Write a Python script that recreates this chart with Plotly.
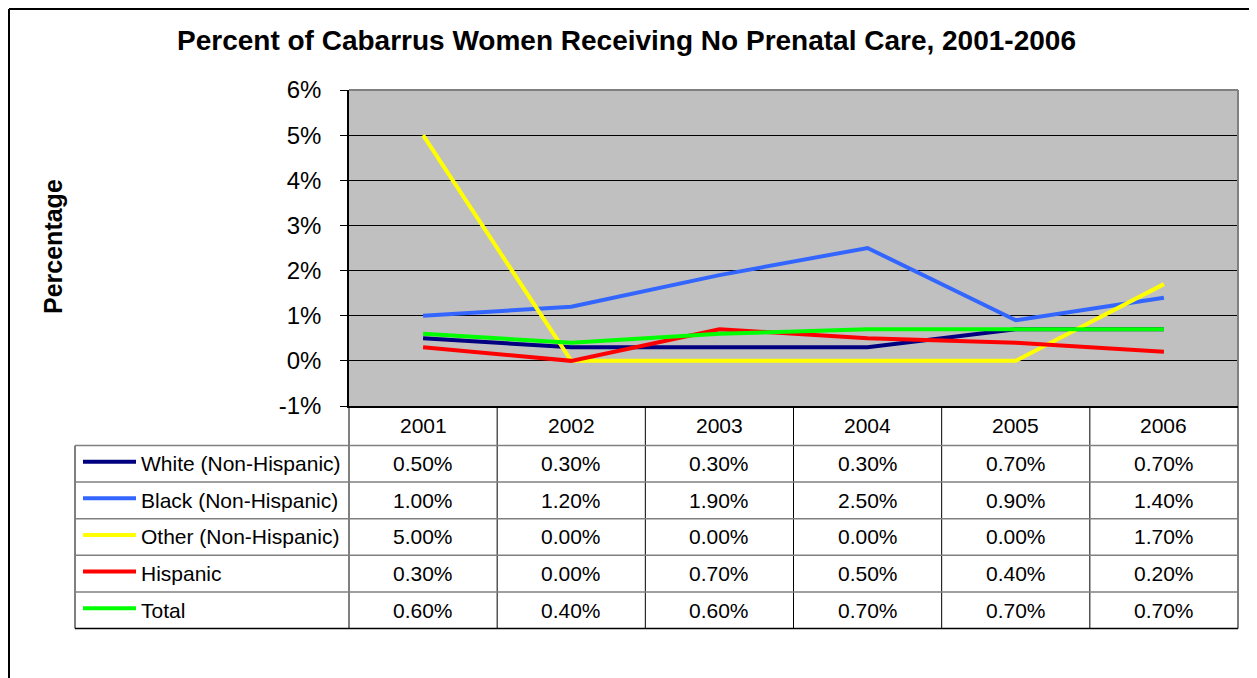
import plotly.graph_objects as go

# data
years = ["2001", "2002", "2003", "2004", "2005", "2006"]
white = [0.5, 0.3, 0.3, 0.3, 0.7, 0.7]
black = [1.0, 1.2, 1.9, 2.5, 0.9, 1.4]
other = [5.0, 0.0, 0.0, 0.0, 0.0, 1.7]
hispanic = [0.3, 0.0, 0.7, 0.5, 0.4, 0.2]
total = [0.6, 0.4, 0.6, 0.7, 0.7, 0.7]

series_names = ["White (Non-Hispanic)", "Black (Non-Hispanic)", "Other (Non-Hispanic)", "Hispanic", "Total"]
series_values = [white, black, other, hispanic, total]
series_colors = ["#000080", "#3366FF", "#FFFF00", "#FF0000", "#00FF00"]
y_ticks = [-1, 0, 1, 2, 3, 4, 5, 6]

# the page body adds an 8px margin, so the figure is laid out 8px up/left
OFF = 8
W, H = 1257 - OFF, 678 - OFF
L, R, T, B = 349, 1238, 90, 406   # plot area in page pixels
FONT = "Liberation Sans, Arial, sans-serif"


def px_x(px):
    return (px - L) / (R - L)


def px_y(py):
    return (B - py) / (B - T)


xpos = list(range(len(years)))

fig = go.Figure()
for name, vals, col in zip(series_names, series_values, series_colors):
    fig.add_trace(go.Scatter(
        x=xpos, y=vals, mode="lines", name=name,
        line=dict(color=col, width=4), showlegend=False
    ))

shapes = []
annotations = []

# plot frame: grey top/right, black left/bottom
shapes.append(dict(type="line", xref="paper", yref="paper", x0=0, x1=1, y0=1, y1=1,
                   line=dict(color="#808080", width=2)))
shapes.append(dict(type="line", xref="paper", yref="paper", x0=1, x1=1, y0=0, y1=1,
                   line=dict(color="#808080", width=2)))

# outer chart border (top and left visible)
shapes.append(dict(type="line", xref="paper", yref="paper", x0=px_x(9), x1=px_x(1300),
                   y0=px_y(9), y1=px_y(9), line=dict(color="black", width=2)))
shapes.append(dict(type="line", xref="paper", yref="paper", x0=px_x(9), x1=px_x(9),
                   y0=px_y(9), y1=px_y(720), line=dict(color="black", width=2)))

# data table grid
row_edges = [406, 445.6, 482, 518.7, 555.2, 592, 628.5]
tbl_left = 75
col_w = (R - L) / len(years)
for i in range(len(years) + 1):
    xe = L + i * col_w
    shapes.append(dict(type="line", xref="paper", yref="paper", x0=px_x(xe), x1=px_x(xe),
                       y0=px_y(row_edges[0]), y1=px_y(row_edges[-1]),
                       line=dict(color="black", width=1)))
shapes.append(dict(type="line", xref="paper", yref="paper", x0=px_x(tbl_left), x1=px_x(tbl_left),
                   y0=px_y(row_edges[1]), y1=px_y(row_edges[-1]),
                   line=dict(color="black", width=1)))
for j in range(1, len(row_edges)):
    col = "black" if j == len(row_edges) - 1 else "#808080"
    shapes.append(dict(type="line", xref="paper", yref="paper", x0=px_x(tbl_left), x1=1,
                       y0=px_y(row_edges[j]), y1=px_y(row_edges[j]),
                       line=dict(color=col, width=1.5)))

# header row: years
hdr_y = (row_edges[0] + row_edges[1]) / 2
for i, yr in enumerate(years):
    annotations.append(dict(x=xpos[i], y=px_y(hdr_y), xref="x", yref="paper", text=yr,
                            showarrow=False, xanchor="center", yanchor="middle",
                            font=dict(family=FONT, size=21, color="black")))

# data rows
for k, (name, vals, col) in enumerate(zip(series_names, series_values, series_colors)):
    cy = (row_edges[k + 1] + row_edges[k + 2]) / 2
    shapes.append(dict(type="line", xref="paper", yref="paper", x0=px_x(83), x1=px_x(136),
                       y0=px_y(cy - 2), y1=px_y(cy - 2), line=dict(color=col, width=4)))
    annotations.append(dict(x=px_x(139), y=px_y(cy), xref="paper", yref="paper", text=name,
                            showarrow=False, xanchor="left", yanchor="middle",
                            font=dict(family=FONT, size=21, color="black")))
    for i, v in enumerate(vals):
        annotations.append(dict(x=xpos[i], y=px_y(cy), xref="x", yref="paper",
                                text=f"{v:.2f}%", showarrow=False, xanchor="center",
                                yanchor="middle",
                                font=dict(family=FONT, size=21, color="black")))

# title and y axis title
annotations.append(dict(x=px_x(626), y=px_y(40), xref="paper", yref="paper",
                        text="<b>Percent of Cabarrus Women Receiving No Prenatal Care, 2001-2006</b>",
                        showarrow=False, xanchor="center", yanchor="middle",
                        font=dict(family=FONT, size=28, color="black")))
annotations.append(dict(x=px_x(53), y=px_y(247), xref="paper", yref="paper",
                        text="<b>Percentage</b>", textangle=-90,
                        showarrow=False, xanchor="center", yanchor="middle",
                        font=dict(family=FONT, size=25, color="black")))

fig.update_layout(
    width=W, height=H,
    margin=dict(l=L - OFF, r=W + OFF - R, t=T - OFF, b=H + OFF - B, pad=0),
    paper_bgcolor="white",
    plot_bgcolor="#C0C0C0",
    showlegend=False,
    xaxis=dict(range=[-0.5, len(years) - 0.5], showticklabels=False, showgrid=False,
               zeroline=False, showline=True, linecolor="black", linewidth=1.5, ticks=""),
    yaxis=dict(range=[-1, 6], tickvals=y_ticks, ticktext=[f"{t}%" for t in y_ticks],
               showgrid=True, gridcolor="black", gridwidth=1, zeroline=False, showline=True,
               linecolor="black", linewidth=1.5, ticks="outside", ticklen=7,
               tickcolor="black", ticklabelstandoff=14,
               tickfont=dict(family=FONT, size=24, color="black")),
    shapes=shapes,
    annotations=annotations,
)

fig.write_html("out.html")
